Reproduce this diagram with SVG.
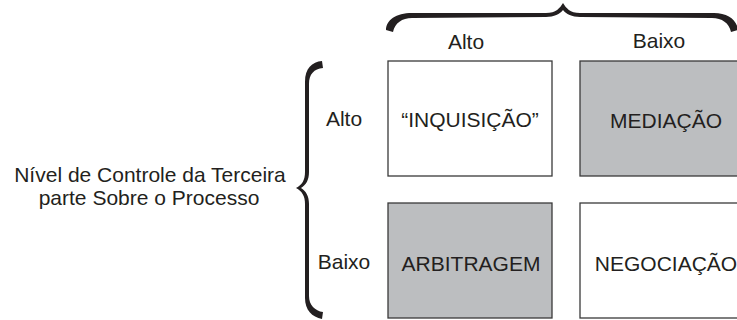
<svg xmlns="http://www.w3.org/2000/svg" width="737" height="320" viewBox="0 0 737 320">
<style>
text{font-family:"Liberation Sans",Arial,sans-serif;font-size:21px;fill:#231f20;text-anchor:middle}
.box{stroke:#3a3a3a;stroke-width:1.3}
.white{fill:#ffffff}
.gray{fill:#bcbec0}
.brace{fill:#231f20}
</style>
<rect width="737" height="320" fill="#ffffff"/>
<g id="connectors">
<path id="top-brace" class="brace" d="M386 30 C386 20 396 13 412 13 L546 13 C556 13 560 8 563 3 C566 8 570 13 580 13 L714 13 C728 13 737 20 738 30 L731 32 C729 23 722 18 712 18 L580 17 C572 17 566 14 563 10 C560 14 554 17 546 17 L412 18 C402 18 395 23 393 32 Z"/>
<path id="left-brace" class="brace" d="M322 61 C312 62 305 68 305 82 L305 172 C305 180 302 185 296 188 C302 191 305 196 305 204 L305 298 C305 310 312 317 322 319 L323 312 C315 311 309 305 309 296 L309 204 C309 196 306 191 301 188 C306 185 309 180 309 172 L309 84 C309 74 314 69 323 68 Z"/>
</g>
<g id="col-labels">
<text x="466" y="49">Alto</text>
<text x="659" y="48">Baixo</text>
</g>
<g id="row-labels">
<text x="344" y="126">Alto</text>
<text x="344" y="269">Baixo</text>
</g>
<g id="axis-label">
<text x="150" y="182">Nível de Controle da Terceira</text>
<text x="149" y="205">parte Sobre o Processo</text>
</g>
<g id="inquisicao">
<rect class="box white" x="388" y="61" width="164" height="115"/>
<text x="470" y="127">“INQUISIÇÃO”</text>
</g>
<g id="mediacao">
<rect class="box gray" x="580" y="61" width="180" height="115"/>
<text x="666" y="128">MEDIAÇÃO</text>
</g>
<g id="arbitragem">
<rect class="box gray" x="388" y="203" width="164" height="115"/>
<text x="471" y="271">ARBITRAGEM</text>
</g>
<g id="negociacao">
<rect class="box white" x="580" y="203" width="180" height="115"/>
<text x="666" y="271">NEGOCIAÇÃO</text>
</g>
</svg>
